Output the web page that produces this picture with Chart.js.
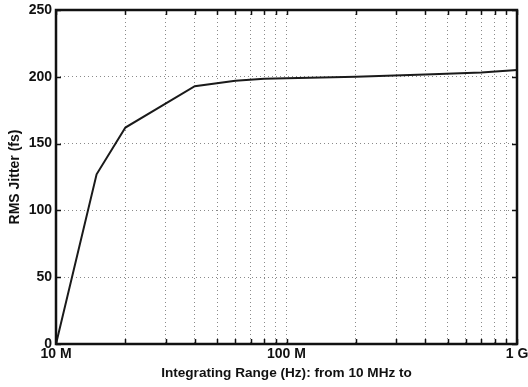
<!DOCTYPE html>
<html>
<head>
<meta charset="utf-8">
<script src="https://cdn.jsdelivr.net/npm/chart.js@4"></script>
<style>
  html, body { margin: 0; padding: 0; background: #fff; }
  #wrap { width: 528px; height: 387px; }
</style>
</head>
<body>
<div id="wrap"><canvas id="c" width="528" height="387"></canvas></div>
<script>
// Data (frequency in MHz, jitter in fs)
const freqMHz = [10, 15, 20, 40, 60, 80, 100, 200, 400, 700, 1000];
const jitterFs = [0, 127, 162, 193, 197, 198.5, 199, 200, 201.7, 203.3, 205];
const xTickValues = [10, 20, 30, 40, 50, 60, 70, 80, 90, 100, 200, 300, 400, 500, 600, 700, 800, 900, 1000];
const xTickLabels = { 10: '10 M', 100: '100 M', 1000: '1 G' };
const yTickValues = [0, 50, 100, 150, 200, 250];

const points = freqMHz.map((f, i) => ({ x: f, y: jitterFs[i] }));

const framePlugin = {
  id: 'frame',
  afterDatasetsDraw(chart) {
    const { ctx, chartArea: a, scales } = chart;
    ctx.save();
    ctx.strokeStyle = '#111';
    ctx.lineWidth = 1.5;
    const L = 5;
    ctx.beginPath();
    scales.x.ticks.forEach(t => {
      const px = Math.round(scales.x.getPixelForValue(t.value)) + 0.5;
      ctx.moveTo(px, a.bottom); ctx.lineTo(px, a.bottom - L);
      ctx.moveTo(px, a.top); ctx.lineTo(px, a.top + L);
    });
    scales.y.ticks.forEach(t => {
      const py = Math.round(scales.y.getPixelForValue(t.value)) + 0.5;
      ctx.moveTo(a.left, py); ctx.lineTo(a.left + L, py);
      ctx.moveTo(a.right, py); ctx.lineTo(a.right - L, py);
    });
    ctx.stroke();
    ctx.lineWidth = 2.5;
    ctx.strokeStyle = '#111';
    ctx.strokeRect(a.left, a.top, a.right - a.left, a.bottom - a.top);
    ctx.restore();
  }
};

new Chart(document.getElementById('c'), {
  type: 'line',
  data: {
    datasets: [{
      data: points,
      borderColor: '#1a1a1a',
      borderWidth: 2,
      pointRadius: 0,
      tension: 0,
      fill: false
    }]
  },
  options: {
    responsive: false,
    animation: false,
    events: [],
    layout: { padding: { top: 10, right: 11, left: 0, bottom: 0 } },
    plugins: { legend: { display: false }, tooltip: { enabled: false } },
    scales: {
      x: {
        type: 'logarithmic',
        min: 10,
        max: 1000,
        afterBuildTicks(scale) {
          scale.ticks = xTickValues.map(v => ({ value: v }));
        },
        afterFit(scale) {
          scale.height = 43;
          scale.paddingLeft = 0;
          scale.paddingRight = 0;
        },
        ticks: {
          autoSkip: false,
          maxRotation: 0,
          minRotation: 0,
          padding: 2,
          color: '#111',
          font: { family: 'Liberation Sans, Arial, sans-serif', size: 14, weight: 'bold' },
          callback(value) { return xTickLabels[value] || ''; }
        },
        grid: {
          drawTicks: false,
          color: (c) => (c.tick && (c.tick.value === 10 || c.tick.value === 1000)) ? 'rgba(0,0,0,0)' : '#8a8a8a',
          lineWidth: 1,
          borderDash: [1, 3]
        },
        border: { display: false, dash: [1, 3] },
        title: {
          display: true,
          text: 'Integrating Range (Hz): from 10 MHz to',
          color: '#111',
          font: { family: 'Liberation Sans, Arial, sans-serif', size: 13.6, weight: 'bold' },
          padding: { top: 0, bottom: 6 }
        }
      },
      y: {
        min: 0,
        max: 250,
        afterBuildTicks(scale) {
          scale.ticks = yTickValues.map(v => ({ value: v }));
        },
        afterFit(scale) {
          scale.width = 56;
          scale.paddingTop = 0;
          scale.paddingBottom = 0;
        },
        ticks: {
          padding: 4,
          color: '#111',
          font: { family: 'Liberation Sans, Arial, sans-serif', size: 14, weight: 'bold' }
        },
        grid: {
          drawTicks: false,
          color: (c) => (c.tick && (c.tick.value === 0 || c.tick.value === 250)) ? 'rgba(0,0,0,0)' : '#8a8a8a',
          lineWidth: 1
        },
        border: { display: false, dash: [1, 3] },
        title: {
          display: true,
          text: 'RMS Jitter (fs)',
          color: '#111',
          font: { family: 'Liberation Sans, Arial, sans-serif', size: 14, weight: 'bold' },
          padding: { top: 7, bottom: 0 }
        }
      }
    }
  },
  plugins: [framePlugin]
});
</script>
</body>
</html>
